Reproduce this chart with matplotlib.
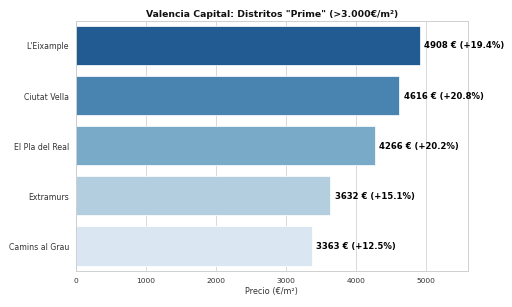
import matplotlib
matplotlib.use("Agg")
import matplotlib.pyplot as plt
import seaborn as sns

distritos = ["L'Eixample", "Ciutat Vella", "El Pla del Real", "Extramurs", "Camins al Grau"]
precios = [4908, 4616, 4266, 3632, 3363]
variacion = [19.4, 20.8, 20.2, 15.1, 12.5]

sns.set_theme(style="whitegrid")
fig, ax = plt.subplots(figsize=(10, 6), dpi=51.2)
fig.subplots_adjust(left=0.148, right=0.914, top=0.932, bottom=0.117)

colores = sns.color_palette("Blues_r", len(distritos), desat=0.75)
ax.barh(range(len(distritos)), precios, height=0.78, color=colores)
ax.set_yticks(range(len(distritos)))
ax.set_yticklabels(distritos, fontsize=11, color="#333333")
ax.set_ylim(len(distritos) - 0.5, -0.5)
ax.set_xlim(0, max(precios) * 1.14)
ax.tick_params(axis="x", labelsize=10.5, colors="#333333")
ax.set_xlabel("Precio (€/m²)", fontsize=11.5, color="#333333")
ax.grid(axis="y", visible=False)

for i, (p, v) in enumerate(zip(precios, variacion)):
    ax.text(p + 60, i, f"{p} € (+{v}%)", va="center", ha="left",
            fontsize=12, fontweight="bold", color="black")

ax.set_title('Valencia Capital: Distritos "Prime" (>3.000€/m²)', fontsize=13,
             fontweight="bold", color="#111111")

plt.savefig("out.png", dpi=51.2)
